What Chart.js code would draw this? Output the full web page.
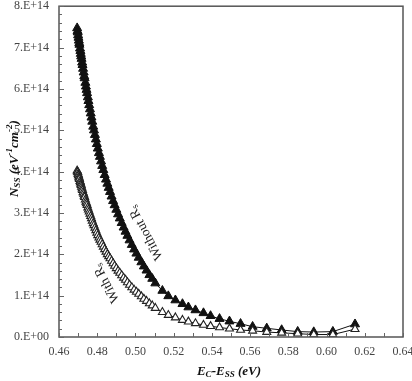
<!DOCTYPE html>
<html>
<head>
<meta charset="utf-8">
<script src="https://cdn.jsdelivr.net/npm/chart.js@4.4.1/dist/chart.umd.min.js"></script>
<style>
  html, body { margin: 0; padding: 0; background: #fff; }
  #wrap { width: 412px; height: 381px; }
</style>
</head>
<body>
<div id="wrap"><canvas id="c" width="412" height="381"></canvas></div>
<script>
// E_C - E_SS (eV), shared by both series
const energy = [
  0.4695, 0.4697, 0.4698, 0.4700, 0.4702, 0.4704, 0.4706, 0.4707, 0.4710, 0.4712,
  0.4714, 0.4716, 0.4718, 0.4721, 0.4723, 0.4726, 0.4729, 0.4732, 0.4734, 0.4738,
  0.4741, 0.4744, 0.4747, 0.4751, 0.4754, 0.4758, 0.4762, 0.4766, 0.4770, 0.4774,
  0.4779, 0.4783, 0.4788, 0.4793, 0.4798, 0.4803, 0.4809, 0.4814, 0.4820, 0.4826,
  0.4832, 0.4839, 0.4846, 0.4853, 0.4860, 0.4867, 0.4875, 0.4883, 0.4891, 0.4900,
  0.4909, 0.4918, 0.4928, 0.4938, 0.4948, 0.4958, 0.4969, 0.4981, 0.4993, 0.5005,
  0.5017, 0.5031, 0.5044, 0.5058, 0.5073, 0.5088, 0.5104, 0.5141, 0.5172, 0.5209,
  0.5246, 0.5277, 0.5314, 0.5356, 0.5393, 0.5440, 0.5492, 0.5550, 0.5613, 0.5687,
  0.5765, 0.5849, 0.5933, 0.6033, 0.6149
];
// N_SS in units of 1E+14 eV^-1 cm^-2
const nssWithoutRs = [
  7.47, 7.40, 7.37, 7.30, 7.24, 7.17, 7.11, 7.07, 6.98, 6.92,
  6.85, 6.79, 6.73, 6.64, 6.58, 6.49, 6.40, 6.31, 6.26, 6.15,
  6.06, 5.98, 5.90, 5.80, 5.71, 5.61, 5.51, 5.41, 5.31, 5.21,
  5.09, 5.00, 4.89, 4.78, 4.67, 4.56, 4.45, 4.36, 4.25, 4.14,
  4.04, 3.92, 3.81, 3.71, 3.61, 3.51, 3.40, 3.29, 3.19, 3.08,
  2.97, 2.87, 2.76, 2.65, 2.55, 2.45, 2.34, 2.23, 2.12, 2.02,
  1.92, 1.81, 1.71, 1.61, 1.50, 1.41, 1.30, 1.12, 0.99, 0.89,
  0.80, 0.72, 0.65, 0.58, 0.51, 0.44, 0.38, 0.32, 0.25, 0.21,
  0.17, 0.13, 0.12, 0.13, 0.31
];
const nssWithRs = [
  4.02, 4.00, 3.98, 3.94, 3.91, 3.87, 3.84, 3.82, 3.77, 3.74,
  3.70, 3.67, 3.63, 3.59, 3.55, 3.50, 3.46, 3.41, 3.38, 3.32,
  3.27, 3.23, 3.19, 3.13, 3.08, 3.03, 2.98, 2.92, 2.87, 2.81,
  2.75, 2.70, 2.64, 2.58, 2.52, 2.46, 2.40, 2.35, 2.30, 2.24,
  2.18, 2.12, 2.06, 2.00, 1.95, 1.90, 1.84, 1.78, 1.72, 1.66,
  1.60, 1.55, 1.49, 1.43, 1.38, 1.32, 1.26, 1.20, 1.14, 1.09,
  1.04, 0.98, 0.92, 0.87, 0.81, 0.76, 0.70, 0.60, 0.53, 0.47,
  0.41, 0.37, 0.33, 0.29, 0.26, 0.23, 0.20, 0.17, 0.15, 0.12,
  0.10, 0.08, 0.06, 0.06, 0.19
];
const xTickLabels = ['0.46','0.48','0.50','0.52','0.54','0.56','0.58','0.60','0.62','0.64'];
const yTickLabels = ['0.E+00','1.E+14','2.E+14','3.E+14','4.E+14','5.E+14','6.E+14','7.E+14','8.E+14'];
const seriesNames = ['Without R', 'With R'];

const SERIF = '"Liberation Serif", "DejaVu Serif", serif';

// anchors for the in-plot labels, in data units (E, N)
const labelPlacement = [
  { name: 0, x: 0.5054, y: 2.52, deg: -118 },
  { name: 1, x: 0.4848, y: 1.30, deg: -118 }
];

function drawRich(ctx, parts, cx, cy, angle, baseSize, style) {
  ctx.save();
  ctx.translate(cx, cy);
  ctx.rotate(angle);
  let total = 0;
  parts.forEach(p => {
    ctx.font = style + ' ' + (p.small ? baseSize * 0.7 : baseSize) + 'px ' + SERIF;
    p.w = ctx.measureText(p.t).width;
    total += p.w;
  });
  let xx = -total / 2;
  ctx.textBaseline = 'middle';
  ctx.textAlign = 'left';
  parts.forEach(p => {
    ctx.font = style + ' ' + (p.small ? baseSize * 0.7 : baseSize) + 'px ' + SERIF;
    ctx.fillText(p.t, xx, p.dy || 0);
    xx += p.w;
  });
  ctx.restore();
}

const framePlugin = {
  id: 'frame',
  afterDraw(chart) {
    const { ctx, chartArea: a, scales } = chart;
    const xs = scales.x, ys = scales.y;
    ctx.save();
    ctx.strokeStyle = '#555';
    ctx.lineWidth = 1.5;
    ctx.strokeRect(a.left, a.top, a.right - a.left, a.bottom - a.top);
    ctx.lineWidth = 1;
    ctx.strokeStyle = '#666';
    for (let k = 0; k <= 40; k++) {
      const py = Math.round(ys.getPixelForValue(k * 0.2)) + 0.5;
      const len = k % 5 === 0 ? 5 : 3;
      ctx.beginPath(); ctx.moveTo(a.left, py); ctx.lineTo(a.left + len, py); ctx.stroke();
    }
    for (let k = 0; k <= 18; k++) {
      const px = Math.round(xs.getPixelForValue(0.46 + k * 0.01)) + 0.5;
      ctx.beginPath(); ctx.moveTo(px, a.bottom); ctx.lineTo(px, a.bottom - 4); ctx.stroke();
    }
    ctx.fillStyle = '#111';
    drawRich(ctx, [
      { t: 'N' }, { t: 'SS', small: true, dy: 3 }, { t: ' (eV' },
      { t: '-1', small: true, dy: -5 }, { t: 'cm' }, { t: '-2', small: true, dy: -5 }, { t: ')' }
    ], 15, (a.top + a.bottom) / 2 - 13, -Math.PI / 2, 13, 'italic bold');
    drawRich(ctx, [
      { t: 'E' }, { t: 'C', small: true, dy: 3 }, { t: '-E' }, { t: 'SS', small: true, dy: 3 }, { t: ' (eV)' }
    ], (a.left + a.right) / 2 - 2, 372, 0, 13, 'italic bold');
    ctx.fillStyle = '#222';
    labelPlacement.forEach(l => {
      const px = xs.getPixelForValue(l.x), py = ys.getPixelForValue(l.y);
      drawRich(ctx, [{ t: seriesNames[l.name] }, { t: 's', small: true, dy: 3 }],
        px, py, l.deg * Math.PI / 180, 13.5, 'normal');
    });
    ctx.restore();
  }
};

const ptsWithout = energy.map((e, i) => ({ x: e, y: nssWithoutRs[i] }));
const ptsWith = energy.map((e, i) => ({ x: e, y: nssWithRs[i] }));

new Chart(document.getElementById('c'), {
  type: 'scatter',
  data: {
    datasets: [
      {
        label: 'With Rs', data: ptsWith, showLine: true,
        borderColor: '#111', borderWidth: 1,
        pointStyle: 'triangle', pointRadius: 4.6,
        pointBackgroundColor: '#fff', pointBorderColor: '#222', pointBorderWidth: 1.1
      },
      {
        label: 'Without Rs', data: ptsWithout, showLine: true,
        borderColor: '#111', borderWidth: 1,
        pointStyle: 'triangle', pointRadius: 5.2,
        pointBackgroundColor: '#111', pointBorderColor: '#111', pointBorderWidth: 1
      }
    ]
  },
  options: {
    responsive: false,
    animation: false,
    devicePixelRatio: 1,
    layout: { padding: { top: 4, right: 9, left: 0, bottom: 0 } },
    plugins: { legend: { display: false }, tooltip: { enabled: false } },
    scales: {
      x: {
        type: 'linear', min: 0.46, max: 0.64,
        grid: { display: false, drawTicks: false },
        border: { display: false },
        afterFit(s) { s.height = 44; s.paddingLeft = 0; s.paddingRight = 0; },
        afterBuildTicks(s) { s.ticks = xTickLabels.map(v => ({ value: parseFloat(v) })); },
        ticks: {
          padding: 8, color: '#444', font: { family: SERIF, size: 12 },
          callback: (v, i) => xTickLabels[i]
        }
      },
      y: {
        type: 'linear', min: 0, max: 8,
        grid: { display: false, drawTicks: false },
        border: { display: false },
        afterFit(s) { s.width = 59; s.paddingTop = 0; s.paddingBottom = 0; },
        afterBuildTicks(s) { s.ticks = yTickLabels.map((v, i) => ({ value: i })); },
        ticks: {
          padding: 10, color: '#444', font: { family: SERIF, size: 12 },
          callback: (v, i) => yTickLabels[i]
        }
      }
    }
  },
  plugins: [framePlugin]
});
</script>
</body>
</html>
